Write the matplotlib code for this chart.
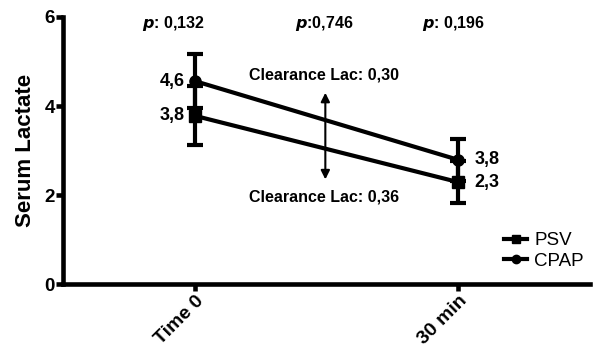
import numpy as np
import matplotlib.pyplot as plt
from matplotlib.lines import Line2D

plt.rcParams['font.family'] = ['Liberation Sans', 'DejaVu Sans']

# data
times = ['Time 0', '30 min']
psv = [3.78, 2.29]
psv_err = [0.66, 0.47]
cpap = [4.56, 2.79]
cpap_err = [0.60, 0.48]
psv_labels = ['3,8', '2,3']
cpap_labels = ['4,6', '3,8']
p_values = ['0,132', '0,746', '0,196']
p_pos = [-0.08, 0.49, 0.98]

fig = plt.figure(figsize=(5.95, 3.53), dpi=100)
ax = fig.add_axes([0.106, 0.195, 0.886, 0.757])

x = np.arange(len(times))
ax.errorbar(x, psv, yerr=psv_err, color='black', lw=3, marker='s', ms=8,
            capsize=6, capthick=3, elinewidth=3)
ax.errorbar(x, cpap, yerr=cpap_err, color='black', lw=3, marker='o', ms=8,
            capsize=6, capthick=3, elinewidth=3)

# value labels
lab_kw = dict(va='center', fontsize=13, fontweight='bold')
ax.text(x[0] - 0.04, cpap[0], cpap_labels[0], ha='right', **lab_kw)
ax.text(x[0] - 0.04, psv[0], psv_labels[0], ha='right', **lab_kw)
ax.text(x[1] + 0.06, cpap[1], cpap_labels[1], ha='left', **lab_kw)
ax.text(x[1] + 0.06, psv[1], psv_labels[1], ha='left', **lab_kw)

# p-values
for xp, pv in zip(p_pos, p_values):
    sep = ':' if pv == '0,746' else ': '
    ax.text(xp, 5.85, r'$\mathbfit{p}$' + sep + pv, ha='center', va='center',
            fontsize=11.5, fontweight='bold')

# clearance arrow and texts
ax.annotate('', xy=(0.495, 4.36), xytext=(0.495, 2.29),
            arrowprops=dict(arrowstyle='<|-|>', color='black', lw=1.5, mutation_scale=13))
ax.text(0.49, 4.7, 'Clearance Lac: 0,30', ha='center', va='center', fontsize=11.5, fontweight='bold')
ax.text(0.49, 1.95, 'Clearance Lac: 0,36', ha='center', va='center', fontsize=11.5, fontweight='bold')

ax.set_xlim(-0.5, 1.5)
ax.set_ylim(0, 6)
ax.set_yticks([0, 2, 4, 6])
ax.set_xticks(x)
ax.set_xticklabels(times, rotation=45, ha='right', rotation_mode='anchor',
                   fontsize=14, fontweight='bold')
for lab in ax.get_yticklabels():
    lab.set_fontweight('bold')
    lab.set_fontsize(13.5)
ax.set_ylabel('Serum Lactate', fontsize=16, fontweight='bold', labelpad=6)

ax.spines['top'].set_visible(False)
ax.spines['right'].set_visible(False)
ax.spines['left'].set_linewidth(3.3)
ax.spines['bottom'].set_linewidth(3.3)
ax.tick_params(width=3.3, length=5, pad=1)

handles = [Line2D([], [], color='black', lw=3, marker='s', ms=6),
           Line2D([], [], color='black', lw=3, marker='o', ms=6)]
ax.legend(handles, ['PSV', 'CPAP'], loc='lower right', bbox_to_anchor=(1.02, -0.01),
          frameon=False, fontsize=13.5, handlelength=1.2, handletextpad=0.4,
          labelspacing=0.2)

fig.savefig('out.png', dpi=100)
